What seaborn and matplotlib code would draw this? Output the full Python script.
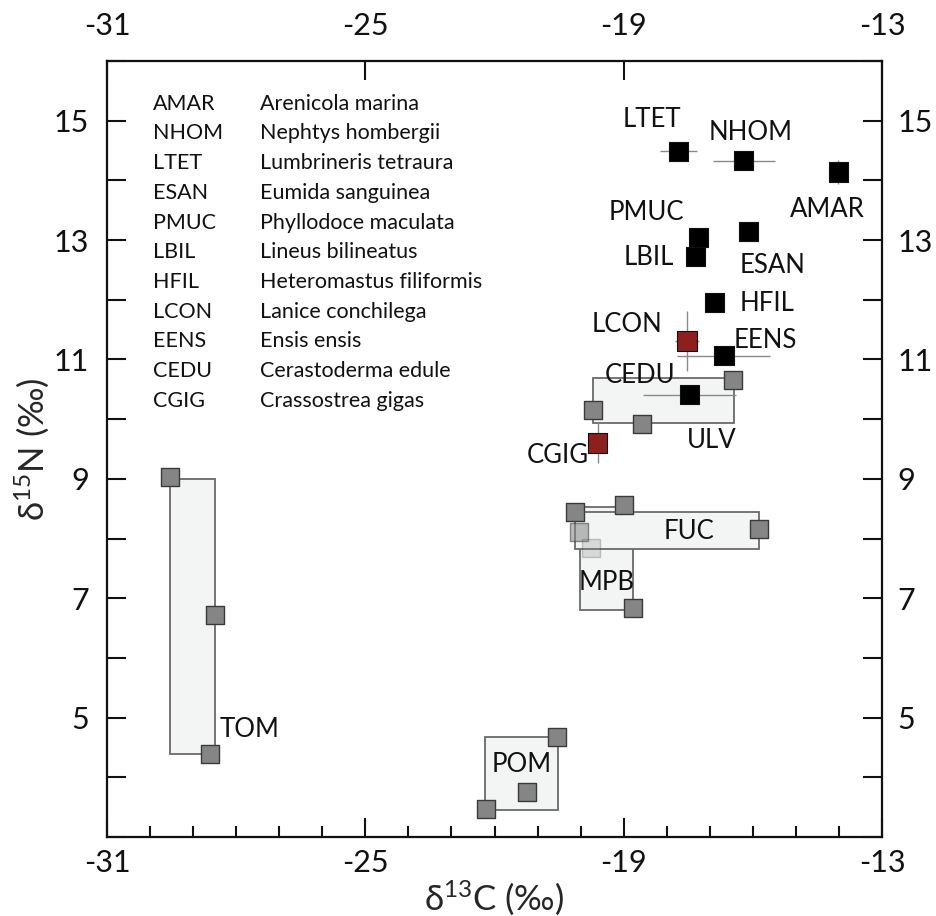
import matplotlib
matplotlib.use("Agg")
import matplotlib.pyplot as plt
import seaborn as sns
import pandas as pd
from matplotlib.patches import Rectangle
from matplotlib.ticker import FixedLocator, MultipleLocator, NullLocator

# ---------------- data ----------------
species_codes = ["AMAR", "NHOM", "LTET", "ESAN", "PMUC", "LBIL", "HFIL",
                 "LCON", "EENS", "CEDU", "CGIG"]
species_names = ["Arenicola marina", "Nephtys hombergii", "Lumbrineris tetraura",
                 "Eumida sanguinea", "Phyllodoce maculata", "Lineus bilineatus",
                 "Heteromastus filiformis", "Lanice conchilega", "Ensis ensis",
                 "Cerastoderma edule", "Crassostrea gigas"]
cons_d13c = [-14.02, -16.21, -17.73, -16.11, -17.27, -17.34, -16.90,
             -17.53, -16.67, -17.48, -19.60]
cons_d15n = [14.14, 14.33, 14.49, 13.14, 13.05, 12.72, 11.96,
             11.31, 11.06, 10.41, 9.60]
cons_xerr = [0.0, 0.72, 0.43, 0.0, 0.0, 0.0, 0.0, 0.28, 1.08, 1.08, 0.22]
cons_yerr = [0.20, 0.0, 0.0, 0.0, 0.0, 0.0, 0.0, 0.51, 0.0, 0.15, 0.33]

src_group = ["TOM", "TOM", "TOM", "POM", "POM", "POM", "MPB", "MPB", "MPB",
             "MPB", "FUC", "FUC", "ULV", "ULV", "ULV"]
src_d13c = [-29.54, -28.49, -28.61, -22.20, -21.25, -20.55, -18.99, -20.04,
            -19.76, -18.78, -20.13, -15.86, -19.71, -18.58, -16.46]
src_d15n = [9.03, 6.72, 4.39, 3.47, 3.76, 4.68, 8.56, 8.11, 7.84, 6.84,
            8.45, 8.16, 10.16, 9.92, 10.66]

box_group = ["TOM", "POM", "MPB", "FUC", "ULV"]
box_xmin = [-29.54, -22.22, -20.02, -20.13, -19.71]
box_xmax = [-28.49, -20.53, -18.78, -15.86, -16.44]
box_ymin = [4.39, 3.46, 6.81, 7.83, 9.94]
box_ymax = [9.00, 4.68, 8.53, 8.45, 10.69]

x_ticks = [-31, -25, -19, -13]
y_ticks = [5, 7, 9, 11, 13, 15]

# ---------------- layout / style ----------------
label_pos = {
    "LTET": (-18.35, 15.02), "NHOM": (-16.04, 14.80), "AMAR": (-14.27, 13.52),
    "PMUC": (-18.48, 13.46), "LBIL": (-18.41, 12.70), "ESAN": (-15.54, 12.58),
    "HFIL": (-15.66, 11.93), "LCON": (-18.92, 11.58), "EENS": (-15.70, 11.31),
    "CEDU": (-18.62, 10.73), "CGIG": (-20.52, 9.39),
    "ULV": (-16.96, 9.64), "FUC": (-17.48, 8.12), "MPB": (-19.39, 7.26),
    "TOM": (-27.68, 4.80), "POM": (-21.36, 4.22),
}
red_codes = ["LCON", "CGIG"]
faded_alpha = {7: 0.55, 8: 0.25}

sns.set_theme(style="ticks")
FONT = ["Lato", "DejaVu Sans"]
plt.rcParams["font.family"] = FONT
plt.rcParams["mathtext.default"] = "regular"

INK = "#111111"

cons = pd.DataFrame({"code": species_codes, "x": cons_d13c, "y": cons_d15n,
                     "xerr": cons_xerr, "yerr": cons_yerr})
cons["col"] = ["red" if c in red_codes else "black" for c in cons["code"]]
src = pd.DataFrame({"group": src_group, "x": src_d13c, "y": src_d15n})

fig = plt.figure(figsize=(9.36, 9.16), dpi=100)
ax = fig.add_axes([107 / 936, 1 - 837 / 916, 775 / 936, 776 / 916])

# boxes
for xmin, xmax, ymin, ymax in zip(box_xmin, box_xmax, box_ymin, box_ymax):
    ax.add_patch(Rectangle((xmin, ymin), xmax - xmin, ymax - ymin,
                           facecolor="#f3f5f4", edgecolor="#6a6a6a",
                           linewidth=1.3, zorder=1))

# source points
for i, row in src.iterrows():
    sns.scatterplot(x=[row["x"]], y=[row["y"]], marker="s", s=170,
                    color="#858585", edgecolor="#3a3a3a", linewidth=1.0,
                    alpha=faded_alpha.get(i, 1.0), ax=ax, zorder=3, legend=False)

# error bars
for _, r in cons.iterrows():
    if r["xerr"] > 0 or r["yerr"] > 0:
        ax.errorbar(r["x"], r["y"], xerr=r["xerr"] if r["xerr"] > 0 else None,
                    yerr=r["yerr"] if r["yerr"] > 0 else None, fmt="none",
                    ecolor="#8a8a8a", elinewidth=1.0, capsize=0, zorder=2)

# consumers
sns.scatterplot(data=cons, x="x", y="y", hue="col",
                palette={"black": "#000000", "red": "#8e1f1f"},
                marker="s", s=190, edgecolor=INK, linewidth=0.8,
                ax=ax, zorder=4, legend=False)

# point labels
for name, (lx, ly) in label_pos.items():
    ax.text(lx, ly, name, ha="center", va="center", fontsize=18.5,
            color=INK, zorder=5)

# species key
for k, (code, nm) in enumerate(zip(species_codes, species_names)):
    yy = 0.945 - k * 0.0383
    ax.text(0.059, yy, code, transform=ax.transAxes, ha="left", va="center",
            fontsize=15.5, color=INK)
    ax.text(0.197, yy, nm, transform=ax.transAxes, ha="left", va="center",
            fontsize=15.5, color=INK)

# axes
ax.set_xlim(-31, -13)
ax.set_ylim(3, 16)
ax.xaxis.set_major_locator(FixedLocator(x_ticks))
ax.xaxis.set_minor_locator(MultipleLocator(1))
ax.yaxis.set_major_locator(FixedLocator(y_ticks))
ax.yaxis.set_minor_locator(MultipleLocator(1))
ax.set_xticklabels([str(v) for v in x_ticks])
ax.set_yticklabels([str(v) for v in y_ticks])
for sp in ax.spines.values():
    sp.set_visible(True)
    sp.set_linewidth(1.6)
    sp.set_color(INK)
ax.tick_params(axis="both", which="both", direction="in", width=1.5,
               color=INK, labelsize=22, labelcolor=INK)
ax.tick_params(axis="x", which="major", length=14, top=True, bottom=True,
               labeltop=False, labelbottom=True, pad=9)
ax.tick_params(axis="x", which="minor", length=8, top=False, bottom=True)
ax.tick_params(axis="y", which="both", length=14, left=True, right=True,
               labelleft=True, labelright=False, pad=13)
ax.grid(False)

# top / right tick labels
secx = ax.secondary_xaxis("top")
secx.xaxis.set_major_locator(FixedLocator(x_ticks))
secx.xaxis.set_minor_locator(NullLocator())
secx.set_xticklabels([str(v) for v in x_ticks])
secx.tick_params(axis="x", length=0, labelsize=22, labelcolor=INK, pad=15)
secx.spines["top"].set_visible(False)

secy = ax.secondary_yaxis("right")
secy.yaxis.set_major_locator(FixedLocator(y_ticks))
secy.yaxis.set_minor_locator(NullLocator())
secy.set_yticklabels([str(v) for v in y_ticks])
secy.tick_params(axis="y", length=0, labelsize=22, labelcolor=INK, pad=11)
secy.spines["right"].set_visible(False)

ax.set_xlabel("δ$^{13}$C (‰)", fontsize=25, va="center")
ax.xaxis.set_label_coords(0.5, -0.078)
ax.set_ylabel("δ$^{15}$N (‰)", fontsize=25, va="center")
ax.yaxis.set_label_coords(-0.097, 0.5)

fig.savefig("out.png", dpi=100)
